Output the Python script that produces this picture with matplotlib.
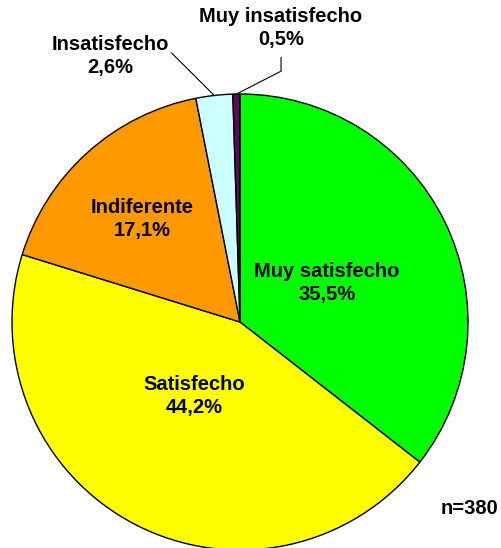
import numpy as np
import matplotlib.pyplot as plt

# Datos de la encuesta
categorias = ["Muy satisfecho", "Satisfecho", "Indiferente", "Insatisfecho", "Muy insatisfecho"]
porcentajes = [35.5, 44.2, 17.1, 2.6, 0.5]
colores = ["#00FF00", "#FFFF00", "#FF9900", "#CCFFFF", "#660066"]
n_total = 380

plt.rcParams["font.family"] = ["Liberation Sans", "DejaVu Sans"]

fig = plt.figure(figsize=(5.02, 5.48), dpi=100)
# caja del pie en pixeles: x 12..468, y 94..550
ax = fig.add_axes([12 / 502, (548 - 550) / 548, 456 / 502, 456 / 548])

wedges, _ = ax.pie(porcentajes, colors=colores, startangle=90, counterclock=False,
                   radius=1, wedgeprops=dict(edgecolor="black", linewidth=1.0))
ax.set_xlim(-1, 1)
ax.set_ylim(-1, 1)
ax.set_aspect("equal")
ax.axis("off")

def etiqueta(i):
    return f"{categorias[i]}\n{str(porcentajes[i]).replace('.', ',')}%"

fs = 14.5
# posiciones de las etiquetas (relativas al centro del pie)
pos_labels = [(0.38, 0.17), (-0.20, -0.325), (-0.43, 0.45), (-0.57, 1.165), (0.18, 1.29)]
for i, (x, y) in enumerate(pos_labels):
    ax.text(x, y, etiqueta(i), ha="center", va="center", fontsize=fs,
            fontweight="bold", linespacing=1.27, clip_on=False)

# lineas guia para las porciones pequeñas
def punto_medio(w, r=1.0):
    ang = np.deg2rad((w.theta1 + w.theta2) / 2)
    return r * np.cos(ang), r * np.sin(ang)

x0, y0 = punto_medio(wedges[3])
ax.plot([x0, -0.30], [y0, 1.18], color="black", lw=0.8, clip_on=False)
x1, y1 = punto_medio(wedges[4])
ax.plot([x1, 0.18, 0.18], [y1, 1.10, 1.16], color="black", lw=0.8, clip_on=False)

fig.text(498 / 502, 1 - 509 / 548, f"n={n_total}", ha="right", va="center",
         fontsize=fs, fontweight="bold")

fig.savefig("out.png", dpi=100)
